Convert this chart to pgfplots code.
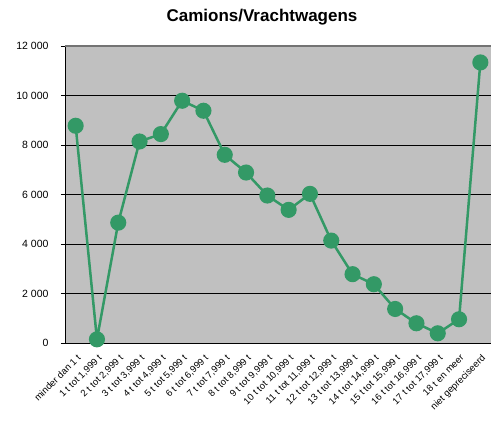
\documentclass[border=0pt]{standalone}
\usepackage{fontspec}
\setmainfont{Liberation Sans}
\usepackage{pgfplots}
\pgfplotsset{compat=1.18}
\definecolor{bgGray}{RGB}{192,192,192}
\definecolor{lineGreen}{RGB}{51,153,102}
\begin{document}
\begin{tikzpicture}
\useasboundingbox (0,0) rectangle (491pt,431pt);
\begin{axis}[
    at={(65pt,87.7pt)}, anchor=south west,
    scale only axis, width=426pt, height=297.3pt,
    xmin=-0.5, xmax=19.5, ymin=0, ymax=12000,
    axis background/.style={fill=bgGray},
    axis x line*=bottom, axis y line*=left,
    axis line style={black, line width=0.8pt, -},
    ymajorgrids, grid style={black, line width=0.8pt},
    scaled y ticks=false,
    ytick={0,2000,4000,6000,8000,10000,12000},
    yticklabels={0,2 000,4 000,6 000,8 000,10 000,12 000},
    xtick={0,...,19},
    xticklabels={minder dan 1 t,{1 t tot 1,999 t},{2 t tot 2,999 t},{3 t tot 3,999 t},{4 t tot 4,999 t},{5 t tot 5,999 t},{6 t tot 6,999 t},{7 t tot 7,999 t},{8 t tot 8,999 t},{9 t tot 9,999 t},{10 t tot 10,999 t},{11 t tot 11,999 t},{12 t tot 12,999 t},{13 t tot 13,999 t},{14 t tot 14,999 t},{15 t tot 15,999 t},{16 t tot 16,999 t},{17 t tot 17,999 t},18 t en meer,niet gepreciseerd},
    xtick style={draw=none},
    minor xtick={-0.5,0.5,...,18.5},
    minor tick length=4pt, major tick length=4pt,
    tick align=outside,
    tick style={black, line width=0.8pt},
    x tick label style={rotate=45, anchor=north east, font=\fontsize{9.5}{10}\selectfont, inner sep=1pt, xshift=-3pt, yshift=-4pt},
    y tick label style={font=\fontsize{10.5}{12}\selectfont, xshift=-9pt},
    /pgf/number format/assume math mode=true,
]
\addplot[color=lineGreen, line width=2.5pt, mark=*, mark size=6.8pt,
    mark options={fill=lineGreen, draw=lineGreen}] coordinates {
    (0,8780)(1,160)(2,4870)(3,8145)(4,8444)(5,9790)(6,9386)(7,7608)(8,6893)(9,5964)
    (10,5386)(11,6032)(12,4145)(13,2790)(14,2384)(15,1386)(16,808)(17,404)(18,970)(19,11337)
};
\end{axis}
\draw[black!55, line width=1.5pt] (65pt,385pt) -- (491pt,385pt);
\node[font=\fontsize{17}{19}\selectfont\bfseries] at (262pt,414pt) {Camions/Vrachtwagens};
\end{tikzpicture}
\end{document}
